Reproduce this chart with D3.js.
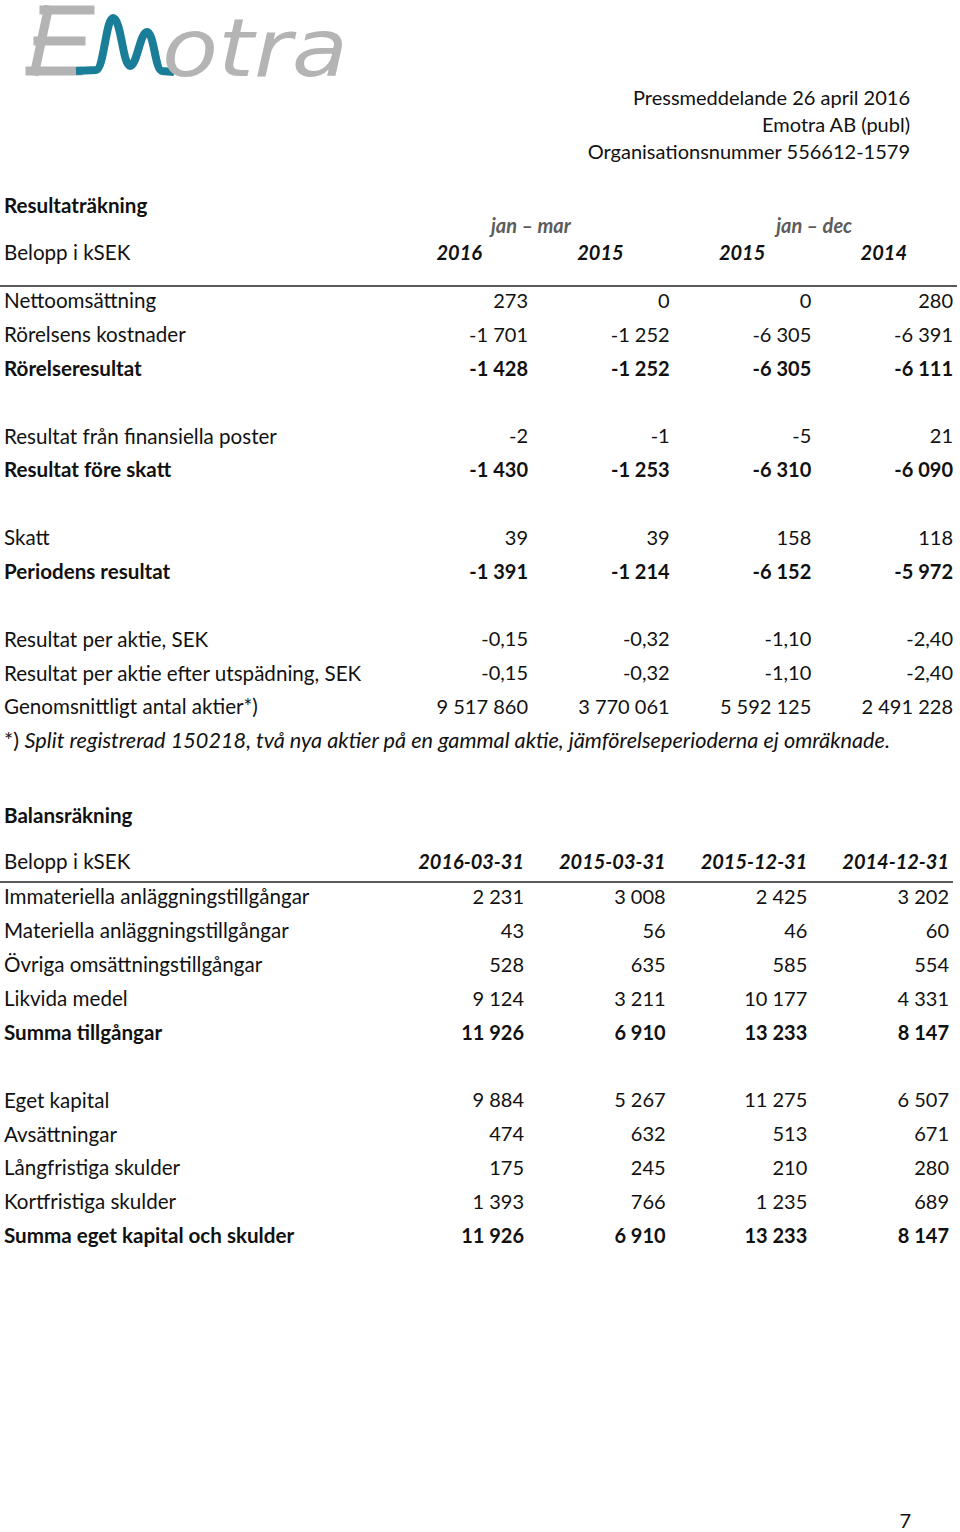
<!DOCTYPE html>
<html><head><meta charset="utf-8">
<script src="https://cdn.jsdelivr.net/npm/d3@7"></script>
<style>
html,body{margin:0;padding:0;background:#fff;}
svg{display:block;}
text{font-family:Lato,"Open Sans",sans-serif;fill:#111;}
</style></head>
<body>
<script>
// ---------- DATA ----------
const pressLines = ["Pressmeddelande 26 april 2016","Emotra AB (publ)","Organisationsnummer 556612-1579"];
const incomeTitle = "Resultaträkning";
const balanceTitle = "Balansräkning";
const unitLabel = "Belopp i kSEK";
const periodLabels = ["jan – mar","jan – dec"];
const incomeYears = ["2016","2015","2015","2014"];
const balanceDates = ["2016-03-31","2015-03-31","2015-12-31","2014-12-31"];

const incomeLabels = ["Nettoomsättning","Rörelsens kostnader","Rörelseresultat","Resultat från finansiella poster","Resultat före skatt","Skatt","Periodens resultat","Resultat per aktie, SEK","Resultat per aktie efter utspädning, SEK","Genomsnittligt antal aktier*)"];
const incomeSlots = [0,1,2,4,5,7,8,10,11,12];
const incomeBold = [false,false,true,false,true,false,true,false,false,false];
const incomeDecimals = [0,0,0,0,0,0,0,2,2,0];
const incomeQ1_2016 = [273,-1701,-1428,-2,-1430,39,-1391,-0.15,-0.15,9517860];
const incomeQ1_2015 = [0,-1252,-1252,-1,-1253,39,-1214,-0.32,-0.32,3770061];
const incomeFY_2015 = [0,-6305,-6305,-5,-6310,158,-6152,-1.10,-1.10,5592125];
const incomeFY_2014 = [280,-6391,-6111,21,-6090,118,-5972,-2.40,-2.40,2491228];
const footnoteMark = "*) ";
const footnoteText = "Split registrerad 150218, två nya aktier på en gammal aktie, jämförelseperioderna ej omräknade.";

const balanceLabels = ["Immateriella anläggningstillgångar","Materiella anläggningstillgångar","Övriga omsättningstillgångar","Likvida medel","Summa tillgångar","Eget kapital","Avsättningar","Långfristiga skulder","Kortfristiga skulder","Summa eget kapital och skulder"];
const balanceSlots = [0,1,2,3,4,6,7,8,9,10];
const balanceBold = [false,false,false,false,true,false,false,false,false,true];
const balance_2016_03 = [2231,43,528,9124,11926,9884,474,175,1393,11926];
const balance_2015_03 = [3008,56,635,3211,6910,5267,632,245,766,6910];
const balance_2015_12 = [2425,46,585,10177,13233,11275,513,210,1235,13233];
const balance_2014_12 = [3202,60,554,4331,8147,6507,671,280,689,8147];
const pageNumber = "7";

// ---------- SETUP ----------
const W = 960, H = 1532;
const svg = d3.select("body").append("svg").attr("width",W).attr("height",H);
svg.append("rect").attr("width",W).attr("height",H).attr("fill","#fff");
const sv = d3.formatLocale({decimal:",",thousands:"\u00a0",grouping:[3],currency:["","kr"],minus:"-"});
const fmt0 = sv.format(",.0f"), fmt2 = sv.format(",.2f");
const FS = 20, LFS = 20.6;

// ---------- LOGO ----------
const gray = "#b4b4b4", teal = "#1b7e98";
const logo = svg.append("g");
const eLines = [[[35,71],[48,10]],[[44,10],[90,10]],[[38,41],[81,41]],[[30,71],[78,71]]];
logo.selectAll("line").data(eLines).join("line")
  .attr("x1",d=>d[0][0]).attr("y1",d=>d[0][1]).attr("x2",d=>d[1][0]).attr("y2",d=>d[1][1])
  .attr("stroke",gray).attr("stroke-width",9).attr("stroke-linecap","square");
logo.append("path")
  .attr("d","M76,71 L96,70 C104,69 106,18 113,18 C121,18 123,66 130,66 C137,66 140,32 147,32 C154,32 155,70 162,71 L174,72")
  .attr("fill","none").attr("stroke",teal).attr("stroke-width",8).attr("stroke-linecap","butt").attr("stroke-linejoin","round");
logo.append("text").attr("x",162).attr("y",76).text("otra")
  .attr("textLength",186).attr("lengthAdjust","spacingAndGlyphs")
  .style("font-family","'DejaVu Sans',sans-serif").style("font-style","italic")
  .style("font-size","80px").style("fill",gray);

// ---------- PRESS HEADER ----------
svg.append("g").selectAll("text").data(pressLines).join("text")
  .attr("x",910).attr("y",(d,i)=>98+27*i).attr("dy","0.35em")
  .attr("text-anchor","end").style("font-size",FS+"px").text(d=>d);

// ---------- INCOME STATEMENT ----------
const incomeCols = [incomeQ1_2016,incomeQ1_2015,incomeFY_2015,incomeFY_2014];
const xInc = d3.scaleLinear().domain([0,3]).range([528,953]);
const yInc = d3.scaleLinear().domain([0,13]).range([301,741]);

svg.append("text").attr("x",4).attr("y",206).attr("dy","0.35em")
  .style("font-size",LFS+"px").style("font-weight","bold").text(incomeTitle);
svg.append("g").selectAll("text").data(periodLabels).join("text")
  .attr("x",(d,i)=>(xInc(2*i)+xInc(2*i+1))/2 - 68).attr("y",226).attr("dy","0.35em")
  .attr("text-anchor","middle").style("font-size",FS+"px").style("font-style","italic")
  .style("font-weight","bold").style("fill","#5c5c5c").text(d=>d);
svg.append("text").attr("x",4).attr("y",253).attr("dy","0.35em")
  .style("font-size",LFS+"px").text(unitLabel);
svg.append("g").selectAll("text").data(incomeYears).join("text")
  .attr("x",(d,i)=>xInc(i)-46).attr("y",253).attr("dy","0.35em")
  .attr("text-anchor","end").style("font-size",FS+"px").style("font-style","italic")
  .style("font-weight","bold").text(d=>d);
svg.append("line").attr("x1",0).attr("x2",957).attr("y1",286).attr("y2",286)
  .attr("stroke","#222").attr("stroke-width",1.4);

const incRows = svg.append("g").selectAll("g").data(incomeLabels).join("g")
  .attr("transform",(d,i)=>`translate(0,${yInc(incomeSlots[i])})`)
  .style("font-weight",(d,i)=>incomeBold[i]?"bold":"normal");
incRows.append("text").attr("x",4).attr("dy","0.35em").style("font-size",LFS+"px").text(d=>d);
incRows.each(function(d,i){
  d3.select(this).selectAll("text.v").data(incomeCols.map(c=>c[i])).join("text")
    .attr("class","v").attr("x",(v,j)=>xInc(j)).attr("dy","0.35em")
    .attr("text-anchor","end").style("font-size",FS+"px")
    .text(v=>incomeDecimals[i]===2?fmt2(v):fmt0(v));
});
const fn = svg.append("text").attr("x",4).attr("y",yInc(13)).attr("dy","0.35em")
  .attr("textLength",886).attr("lengthAdjust","spacingAndGlyphs").style("font-size",LFS+"px");
fn.append("tspan").text(footnoteMark);
fn.append("tspan").style("font-style","italic").text(footnoteText);

// ---------- BALANCE SHEET ----------
const balCols = [balance_2016_03,balance_2015_03,balance_2015_12,balance_2014_12];
const xBal = d3.scaleLinear().domain([0,3]).range([524,949]);
const yBal = d3.scaleLinear().domain([0,10]).range([897,1236]);

svg.append("text").attr("x",4).attr("y",816).attr("dy","0.35em")
  .style("font-size",LFS+"px").style("font-weight","bold").text(balanceTitle);
svg.append("text").attr("x",4).attr("y",862).attr("dy","0.35em")
  .style("font-size",LFS+"px").text(unitLabel);
svg.append("g").selectAll("text").data(balanceDates).join("text")
  .attr("x",(d,i)=>xBal(i)).attr("y",862).attr("dy","0.35em")
  .attr("text-anchor","end").style("font-size",FS+"px").style("font-style","italic")
  .style("font-weight","bold").text(d=>d);
svg.append("line").attr("x1",0).attr("x2",953).attr("y1",882).attr("y2",882)
  .attr("stroke","#222").attr("stroke-width",1.4);

const balRows = svg.append("g").selectAll("g").data(balanceLabels).join("g")
  .attr("transform",(d,i)=>`translate(0,${yBal(balanceSlots[i])})`)
  .style("font-weight",(d,i)=>balanceBold[i]?"bold":"normal");
balRows.append("text").attr("x",4).attr("dy","0.35em").style("font-size",LFS+"px").text(d=>d);
balRows.each(function(d,i){
  d3.select(this).selectAll("text.v").data(balCols.map(c=>c[i])).join("text")
    .attr("class","v").attr("x",(v,j)=>xBal(j)).attr("dy","0.35em")
    .attr("text-anchor","end").style("font-size",FS+"px").text(v=>fmt0(v));
});

svg.append("text").attr("x",911).attr("y",1521).attr("dy","0.35em")
  .attr("text-anchor","end").style("font-size",FS+"px").text(pageNumber);
</script>
</body></html>
